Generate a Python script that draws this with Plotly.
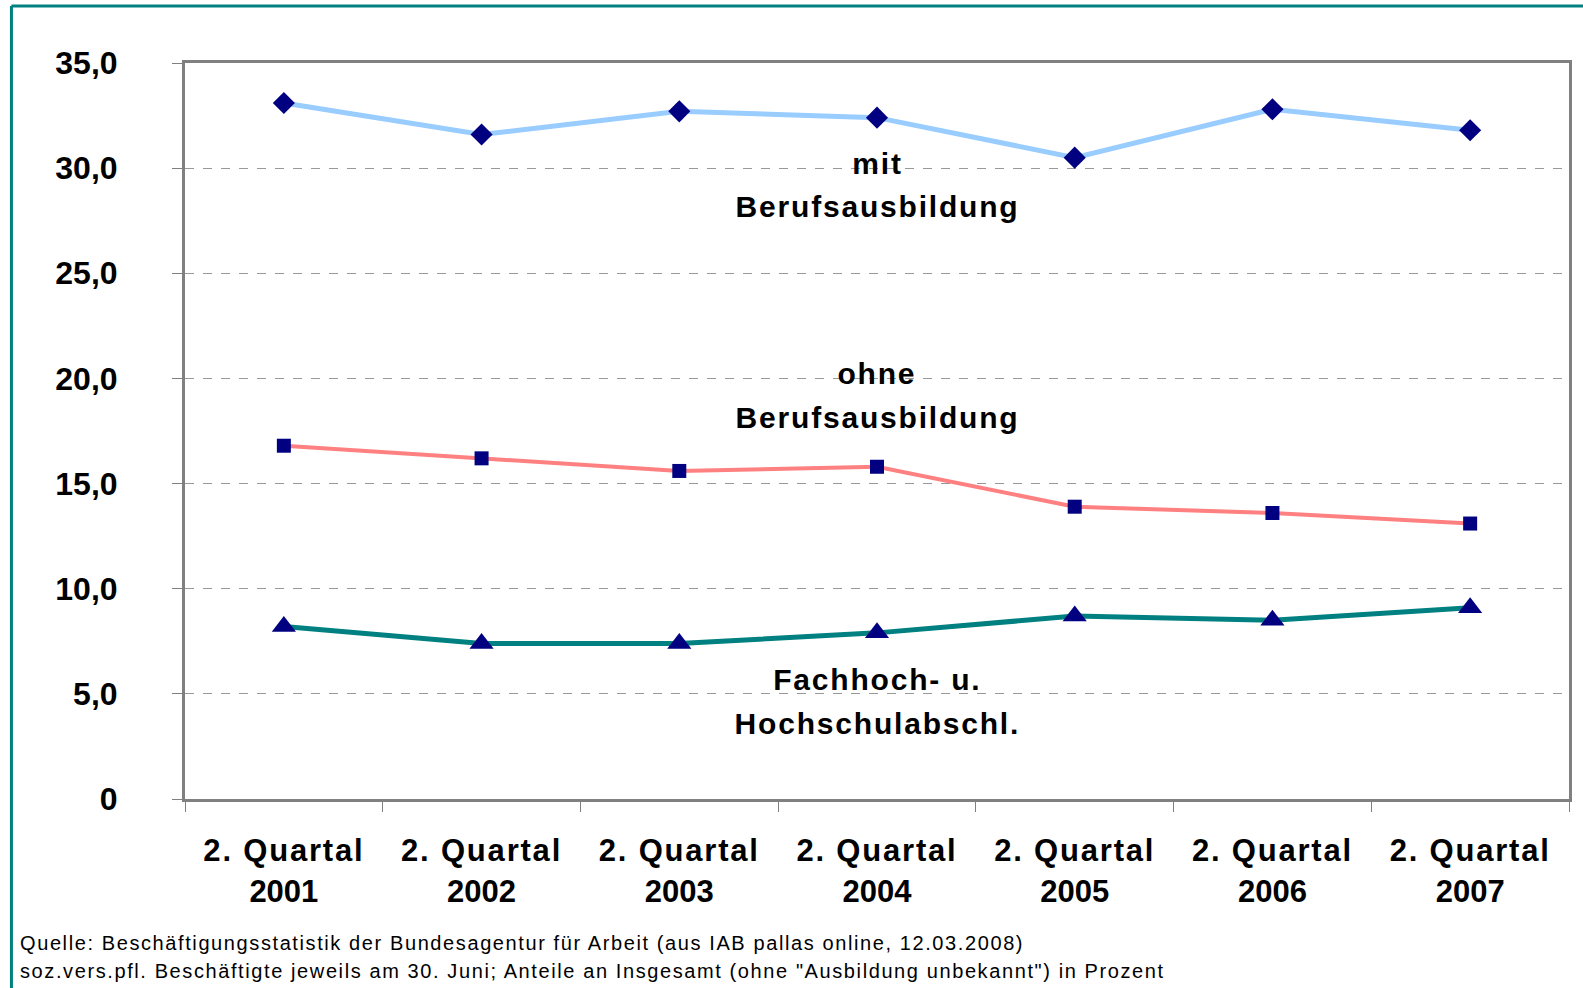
import plotly.graph_objects as go

categories = ["2. Quartal<br>2001", "2. Quartal<br>2002", "2. Quartal<br>2003", "2. Quartal<br>2004",
              "2. Quartal<br>2005", "2. Quartal<br>2006", "2. Quartal<br>2007"]
mit_beruf = [33.1, 31.6, 32.7, 32.4, 30.5, 32.8, 31.8]
ohne_beruf = [16.8, 16.2, 15.6, 15.8, 13.9, 13.6, 13.1]
hochschule = [8.2, 7.4, 7.4, 7.9, 8.7, 8.5, 9.1]

y_tickvals = [0, 5, 10, 15, 20, 25, 30, 35]
y_ticktext = ["0", "5,0", "10,0", "15,0", "20,0", "25,0", "30,0", "35,0"]

label_lines = ["mit", "Berufsausbildung", "ohne", "Berufsausbildung", "Fachhoch- u.", "Hochschulabschl."]
label_line_y = [30.23, 28.17, 20.23, 18.16, 5.67, 3.60]
label_category = categories[3]

source_lines = [
    "Quelle: Beschäftigungsstatistik der Bundesagentur für Arbeit (aus IAB pallas online, 12.03.2008)",
    "soz.vers.pfl. Beschäftigte jeweils am 30. Juni; Anteile an Insgesamt (ohne \"Ausbildung unbekannt\") in Prozent",
]

FONT = "Liberation Sans, Arial, sans-serif"
NAVY = "#000080"

fig = go.Figure()
fig.add_trace(go.Scatter(x=categories, y=mit_beruf, mode="lines+markers",
                         line=dict(color="#99CCFF", width=5),
                         marker=dict(symbol="diamond", size=17, color=NAVY),
                         name="mit Berufsausbildung"))
fig.add_trace(go.Scatter(x=categories, y=ohne_beruf, mode="lines+markers",
                         line=dict(color="#FF8080", width=4),
                         marker=dict(symbol="square", size=14, color=NAVY),
                         name="ohne Berufsausbildung"))
fig.add_trace(go.Scatter(x=categories, y=hochschule, mode="lines+markers",
                         line=dict(color="#008080", width=5),
                         marker=dict(symbol="triangle-up", size=21, color=NAVY),
                         name="Fachhoch- u. Hochschulabschl."))

for text, yv in zip(label_lines, label_line_y):
    fig.add_annotation(x=label_category, y=yv, text="<b>" + text + "</b>", showarrow=False,
                       font=dict(family=FONT, size=30, color="black"),
                       xanchor="center", yanchor="middle", align="center")

for i, line in enumerate(source_lines):
    fig.add_annotation(xref="paper", yref="paper", x=-0.1204, y=-0.1957 - 0.038 * i,
                       text=line, showarrow=False, xanchor="left", yanchor="middle",
                       font=dict(family=FONT, size=20, color="black"))

# teal outer frame (left and top edges)
fig.add_shape(type="line", xref="paper", yref="paper", x0=-0.1254, x1=-0.1254, y0=-0.3, y1=1.0774,
              line=dict(color="#008080", width=3))
fig.add_shape(type="line", xref="paper", yref="paper", x0=-0.1254, x1=1.02, y0=1.0774, y1=1.0774,
              line=dict(color="#008080", width=3))

fig.update_layout(
    width=1583, height=988,
    margin=dict(l=185, r=11, t=63, b=189),
    paper_bgcolor="white", plot_bgcolor="white",
    showlegend=False,
    font=dict(family=FONT, color="black"),
)
fig.update_xaxes(
    type="category", range=[-0.5, len(categories) - 0.5],
    showgrid=False, showline=True, mirror=True, linecolor="#808080", linewidth=3,
    ticks="outside", tickson="boundaries", ticklen=10, tickcolor="#808080", tickwidth=1,
    tickfont=dict(family=FONT, size=31, color="black", weight="bold"),
    ticklabelstandoff=22,
)
fig.update_yaxes(
    range=[0, 35], tickvals=y_tickvals, ticktext=y_ticktext,
    showgrid=True, gridcolor="#999999", griddash="dash", gridwidth=1,
    showline=True, mirror=True, linecolor="#808080", linewidth=3,
    ticks="outside", ticklen=10, tickcolor="#808080", tickwidth=1,
    tickfont=dict(family=FONT, size=32, color="black", weight="bold"),
    ticklabelstandoff=48, zeroline=False,
)

post_script = """
document.body.style.margin = '0';
document.documentElement.style.overflow = 'hidden';
var gd = document.getElementById('{plot_id}');
function spacing() {
  gd.querySelectorAll('g.xtick text tspan.line').forEach(function (t) {
    if (t.textContent.indexOf('Quartal') >= 0) { t.style.letterSpacing = '1.8px'; }
  });
  gd.querySelectorAll('.annotation-text').forEach(function (t) {
    var fs = parseFloat(t.style.fontSize || '0');
    if (fs >= 25) {
      t.style.letterSpacing = '1.8px';
    } else {
      var b0 = t.getBBox();
      t.style.letterSpacing = '1.6px';
      var b1 = t.getBBox();
      var x = parseFloat(t.getAttribute('x') || '0');
      t.setAttribute('x', x + (b0.x - b1.x));
    }
  });
}
spacing();
"""

fig.write_html("out.html", post_script=post_script, config={"displayModeBar": False})
